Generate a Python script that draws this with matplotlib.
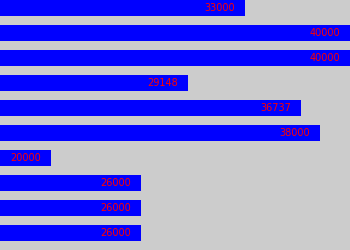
import matplotlib
matplotlib.use('Agg')
import matplotlib.pyplot as plt
import numpy as np

values = [33000, 40000, 40000, 29148, 36737, 38000, 20000, 26000, 26000, 26000]
labels = ['33000', '40000', '40000', '29148', '36737', '38000', '20000', '26000', '26000', '26000']

x_min = 16590
x_max = 40000

fig = plt.figure(figsize=(3.5, 2.5), dpi=100)
fig.patch.set_facecolor('#cccccc')
ax = fig.add_axes([0, 0, 1, 1])
ax.set_facecolor('#cccccc')

ind = np.arange(len(values))
height = 0.64
ax.barh(ind, [v - x_min for v in values], height, left=x_min, color='#0000ff')

# label inside the bar end, ~10px in
offset = (x_max - x_min) / 350 * 10
for i, v in enumerate(values):
    ax.text(v - offset, i, labels[i], color='#ff0000', fontsize=7,
            ha='right', va='center')

ax.set_xlim(x_min, x_max)
ax.set_ylim(len(values) - 0.32, -0.32)
ax.axis('off')

fig.savefig('out.png', dpi=100, facecolor='#cccccc')
